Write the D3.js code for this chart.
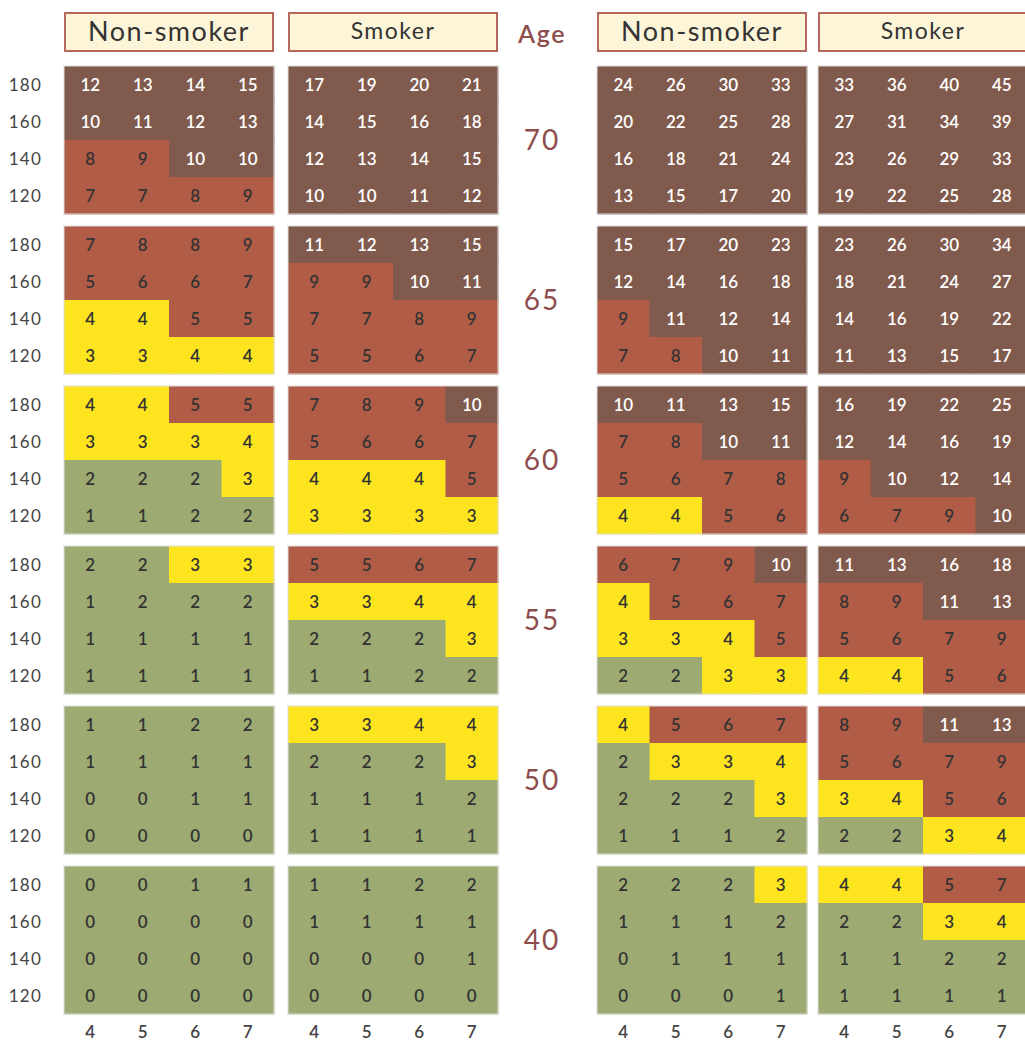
<!DOCTYPE html>
<html><head><meta charset="utf-8">
<script src="https://cdn.jsdelivr.net/npm/d3@7"></script>
<style>body{margin:0;background:#fff}svg{display:block}</style>
</head><body>
<script>
const ages = ["70","65","60","55","50","40"];
const bpLabels = ["180","160","140","120"];
const cholLabels = ["4","5","6","7"];
const panelTitles = ["Non-smoker","Smoker","Non-smoker","Smoker"];

const nonSmokerA = [
  [[12,13,14,15],[10,11,12,13],[8,9,10,10],[7,7,8,9]],
  [[7,8,8,9],[5,6,6,7],[4,4,5,5],[3,3,4,4]],
  [[4,4,5,5],[3,3,3,4],[2,2,2,3],[1,1,2,2]],
  [[2,2,3,3],[1,2,2,2],[1,1,1,1],[1,1,1,1]],
  [[1,1,2,2],[1,1,1,1],[0,0,1,1],[0,0,0,0]],
  [[0,0,1,1],[0,0,0,0],[0,0,0,0],[0,0,0,0]]
];
const smokerA = [
  [[17,19,20,21],[14,15,16,18],[12,13,14,15],[10,10,11,12]],
  [[11,12,13,15],[9,9,10,11],[7,7,8,9],[5,5,6,7]],
  [[7,8,9,10],[5,6,6,7],[4,4,4,5],[3,3,3,3]],
  [[5,5,6,7],[3,3,4,4],[2,2,2,3],[1,1,2,2]],
  [[3,3,4,4],[2,2,2,3],[1,1,1,2],[1,1,1,1]],
  [[1,1,2,2],[1,1,1,1],[0,0,0,1],[0,0,0,0]]
];
const nonSmokerB = [
  [[24,26,30,33],[20,22,25,28],[16,18,21,24],[13,15,17,20]],
  [[15,17,20,23],[12,14,16,18],[9,11,12,14],[7,8,10,11]],
  [[10,11,13,15],[7,8,10,11],[5,6,7,8],[4,4,5,6]],
  [[6,7,9,10],[4,5,6,7],[3,3,4,5],[2,2,3,3]],
  [[4,5,6,7],[2,3,3,4],[2,2,2,3],[1,1,1,2]],
  [[2,2,2,3],[1,1,1,2],[0,1,1,1],[0,0,0,1]]
];
const smokerB = [
  [[33,36,40,45],[27,31,34,39],[23,26,29,33],[19,22,25,28]],
  [[23,26,30,34],[18,21,24,27],[14,16,19,22],[11,13,15,17]],
  [[16,19,22,25],[12,14,16,19],[9,10,12,14],[6,7,9,10]],
  [[11,13,16,18],[8,9,11,13],[5,6,7,9],[4,4,5,6]],
  [[8,9,11,13],[5,6,7,9],[3,4,5,6],[2,2,3,4]],
  [[4,4,5,7],[2,2,3,4],[1,1,2,2],[1,1,1,1]]
];
const panels = [nonSmokerA, smokerA, nonSmokerB, smokerB];

const W = 1025, H = 1044;
const svg = d3.select("body").append("svg").attr("width", W).attr("height", H);
const font = "Lato, 'Open Sans', sans-serif";

const panelX = [64, 288, 597, 818];
const panelW = 210;
const ageX = 542;

const color = d3.scaleThreshold().domain([3,5,10])
  .range(["#9dab73","#fce51f","#b15c47","#805a4c"]);

const yAge = d3.scaleBand().domain(ages).range([66, 1014]).paddingInner(12/160).paddingOuter(0);
const yBp = d3.scaleBand().domain(bpLabels).range([0, yAge.bandwidth()]);
const xChol = d3.scaleBand().domain(cholLabels).range([0, panelW]);

// headers
panelTitles.forEach((t, p) => {
  const g = svg.append("g").attr("transform", `translate(${panelX[p]},12)`);
  g.append("rect").attr("x", 1).attr("y", 1).attr("width", panelW - 2).attr("height", 38)
    .attr("fill", "#fdf5d8").attr("stroke", "#b8675c").attr("stroke-width", 2);
  const big = t !== "Smoker";
  g.append("text").attr("x", panelW/2).attr("y", 19).attr("dy", "0.36em")
    .attr("text-anchor", "middle").attr("font-family", font)
    .attr("font-size", big ? 27 : 23).attr("letter-spacing", big ? 1.5 : 1.5)
    .attr("fill", "#333").text(t);
});
svg.append("text").attr("x", ageX).attr("y", 34).attr("dy", "0.36em")
  .attr("text-anchor", "middle").attr("font-family", font).attr("font-size", 25)
  .attr("letter-spacing", 1.5)
  .attr("font-weight", 600).attr("fill", "#8e4d4d").text("Age");

ages.forEach((age, ai) => {
  const y0 = yAge(age);
  svg.append("text").attr("x", ageX).attr("y", y0 + yAge.bandwidth()/2).attr("dy", "0.36em")
    .attr("text-anchor", "middle").attr("font-family", font).attr("font-size", 28)
    .attr("letter-spacing", 2)
    .attr("fill", "#8e4d4d").text(age);
  const yl = svg.append("g").attr("transform", `translate(0,${y0})`);
  yl.selectAll("text").data(bpLabels).join("text")
    .attr("x", 42).attr("y", d => yBp(d) + yBp.bandwidth()/2).attr("dy", "0.36em")
    .attr("text-anchor", "end").attr("font-family", font).attr("font-size", 17)
    .attr("letter-spacing", 1.2)
    .attr("fill", "#444").text(d => d);

  panels.forEach((pdata, p) => {
    const g = svg.append("g").attr("transform", `translate(${panelX[p]},${y0})`);
    const cells = [];
    pdata[ai].forEach((row, ri) => row.forEach((v, ci) => cells.push({bp: bpLabels[ri], ch: cholLabels[ci], v})));
    g.selectAll("rect.c").data(cells).join("rect").attr("class","c")
      .attr("x", d => xChol(d.ch)).attr("y", d => yBp(d.bp))
      .attr("width", xChol.bandwidth() + 0.5).attr("height", yBp.bandwidth() + 0.5)
      .attr("fill", d => color(d.v));
    g.append("rect").attr("x", 0).attr("y", 0).attr("width", panelW).attr("height", yAge.bandwidth())
      .attr("fill", "none").attr("stroke", "#ddd").attr("stroke-width", 1);
    g.selectAll("text").data(cells).join("text")
      .attr("x", d => xChol(d.ch) + xChol.bandwidth()/2)
      .attr("y", d => yBp(d.bp) + yBp.bandwidth()/2).attr("dy", "0.36em")
      .attr("text-anchor", "middle").attr("font-family", font).attr("font-size", 17)
      .attr("font-weight", 600)
      .attr("fill", d => d.v >= 10 ? "#fff" : "#333").text(d => d.v);
  });
});

// x labels
panelX.forEach(px => {
  const g = svg.append("g").attr("transform", `translate(${px},1032)`);
  g.selectAll("text").data(cholLabels).join("text")
    .attr("x", d => xChol(d) + xChol.bandwidth()/2).attr("y", 0).attr("dy", "0.36em")
    .attr("text-anchor", "middle").attr("font-family", font).attr("font-size", 17)
    .attr("font-weight", 600).attr("fill", "#444").text(d => d);
});
</script>
</body></html>
